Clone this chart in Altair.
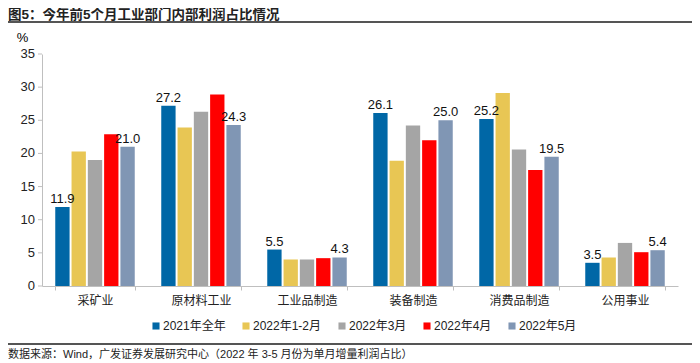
import altair as alt
import pandas as pd

title_text = "图5：今年前5个月工业部门内部利润占比情况"
footer_text = "数据来源：Wind，广发证券发展研究中心（2022 年 3-5 月份为单月增量利润占比）"

categories = ["采矿业", "原材料工业", "工业品制造", "装备制造", "消费品制造", "公用事业"]
series = ["2021年全年", "2022年1-2月", "2022年3月", "2022年4月", "2022年5月"]
colors = ["#0067A6", "#E8C654", "#A5A5A5", "#FF0000", "#8096B4"]
y_ticks = [0, 5, 10, 15, 20, 25, 30, 35]

v2021 = [11.9, 27.2, 5.5, 26.1, 25.2, 3.5]
v2022_12 = [20.3, 23.9, 4.0, 18.9, 29.1, 4.3]
v2022_3 = [19.0, 26.3, 4.0, 24.2, 20.6, 6.5]
v2022_4 = [22.9, 28.9, 4.2, 22.0, 17.5, 5.1]
v2022_5 = [21.0, 24.3, 4.3, 25.0, 19.5, 5.4]
labelled = ["2021年全年", "2022年5月"]

values_by_series = [v2021, v2022_12, v2022_3, v2022_4, v2022_5]
rows = []
for s, vals in zip(series, values_by_series):
    for c, v in zip(categories, vals):
        rows.append({"cat": c, "series": s, "value": v})
df = pd.DataFrame(rows)
tick_df = pd.DataFrame({"value": y_ticks, "label": [str(t) for t in y_ticks]})

LATIN = "Liberation Sans, Noto Sans CJK SC"
CJK = "Noto Sans CJK SC"

x_enc = alt.X("cat:N", sort=categories,
              scale=alt.Scale(paddingInner=0.25, paddingOuter=0.125),
              axis=alt.Axis(title=None, labelAngle=0, labelFont=CJK, labelFontSize=12,
                            labelColor="#222", labelPadding=5, domainColor="#BFBFBF",
                            tickColor="#BFBFBF", tickBand="extent", tickSize=4))
xo_enc = alt.XOffset("series:N", sort=series,
                     scale=alt.Scale(domain=series, paddingInner=0.12))
y_enc = alt.Y("value:Q", scale=alt.Scale(domain=[0, 35], nice=False, zero=True),
              axis=alt.Axis(labels=False, ticks=False, title="%", titleAngle=0,
                            titleX=-20, titleY=-17, titleAlign="center", titleBaseline="middle",
                            titleFontWeight="normal", titleFontSize=13, titleFont=LATIN,
                            domainColor="#BFBFBF", grid=False))

bars = alt.Chart(df).mark_bar().encode(
    x=x_enc, xOffset=xo_enc, y=y_enc,
    color=alt.Color("series:N", sort=series,
                    scale=alt.Scale(domain=series, range=colors),
                    legend=alt.Legend(title=None, orient="none", direction="horizontal",
                                      legendX=108, legendY=266, symbolType="square",
                                      symbolSize=50, symbolStrokeWidth=0, labelFont=LATIN,
                                      labelFontSize=12, labelColor="#222", labelOffset=1,
                                      columnPadding=14)),
)

labels = alt.Chart(df).transform_filter(
    alt.FieldOneOfPredicate(field="series", oneOf=labelled)
).mark_text(dy=-8, fontSize=13, font=LATIN, color="#111").encode(
    x=x_enc, xOffset=xo_enc, y=y_enc,
    text=alt.Text("value:Q", format=".1f"),
)

y_tick_marks = alt.Chart(tick_df).mark_rule(color="#BFBFBF", strokeWidth=1).encode(
    x=alt.value(-4), x2=alt.value(0), y=y_enc)

y_tick_labels = alt.Chart(tick_df).mark_text(
    align="right", baseline="middle", fontSize=13, font=LATIN, color="#222"
).encode(x=alt.value(-7), y=y_enc, text="label:N")

title = alt.Chart(pd.DataFrame({"t": [title_text]})).mark_text(
    align="left", baseline="middle", fontWeight="bold", fontSize=13.5, font=LATIN, color="#222"
).encode(x=alt.value(-34), y=alt.value(-39.5), text="t:N")

top_rule = alt.Chart(pd.DataFrame({"a": [0]})).mark_rule(color="#555", strokeWidth=2).encode(
    x=alt.value(-34), x2=alt.value(650), y=alt.value(-32))

bottom_rule = alt.Chart(pd.DataFrame({"a": [0]})).mark_rule(color="#555", strokeWidth=2).encode(
    x=alt.value(-34), x2=alt.value(650), y=alt.value(290))

footer = alt.Chart(pd.DataFrame({"t": [footer_text]})).mark_text(
    align="left", baseline="middle", fontSize=11, font=LATIN, color="#222"
).encode(x=alt.value(-34), y=alt.value(301), text="t:N")

chart = alt.layer(bars, labels, y_tick_marks, y_tick_labels, title, top_rule,
                  bottom_rule, footer).properties(
    width=636, height=232,
    autosize=alt.AutoSizeParams(type="none"),
    padding={"left": 34, "top": 46, "right": 14, "bottom": 75},
).configure_view(strokeWidth=0)

chart.save("out.html", embed_options={"renderer": "svg", "actions": False})
